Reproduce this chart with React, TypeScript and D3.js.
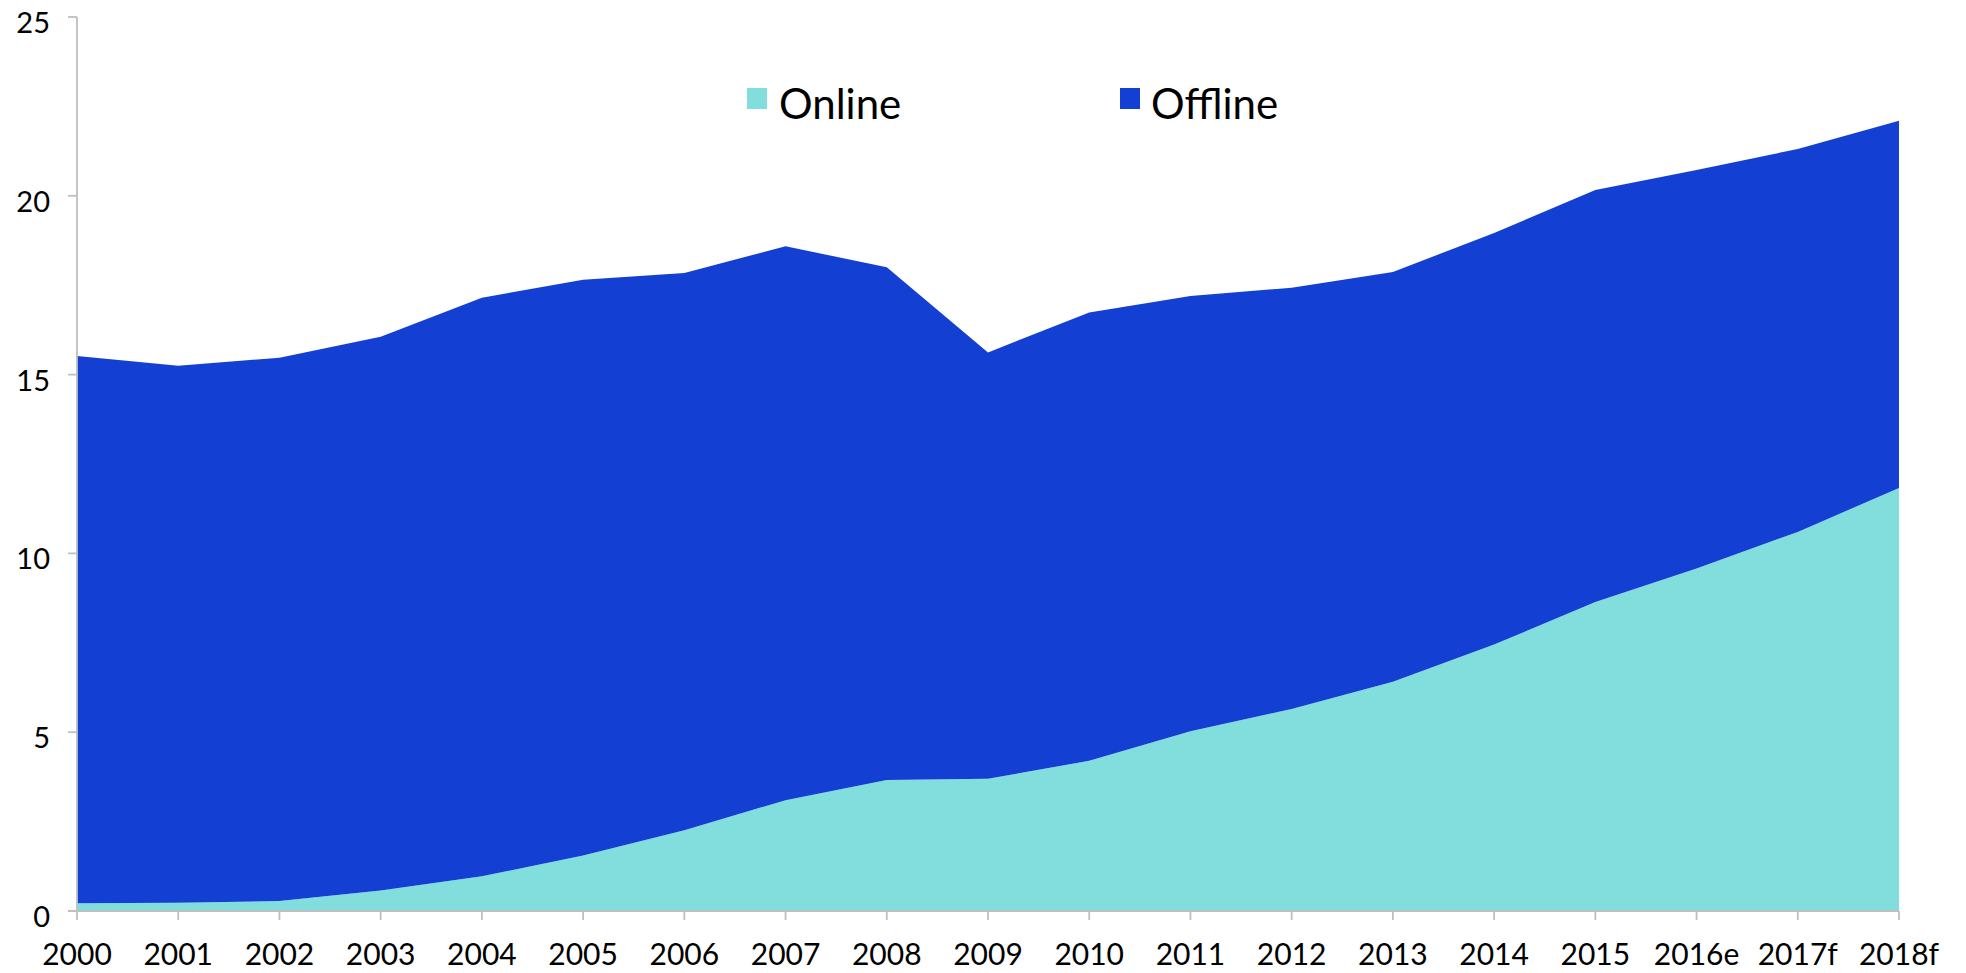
import React from "react";
import * as d3 from "d3";

// Years on the x axis
const years = [
  "2000", "2001", "2002", "2003", "2004", "2005", "2006", "2007", "2008", "2009",
  "2010", "2011", "2012", "2013", "2014", "2015", "2016e", "2017f", "2018f",
];

// Online share
const online = [
  0.22, 0.23, 0.28, 0.57, 0.97, 1.55, 2.26, 3.1, 3.66, 3.7,
  4.2, 5.03, 5.65, 6.41, 7.45, 8.64, 9.58, 10.6, 11.83,
];

// Offline share (stacked on top of online)
const offline = [
  15.3, 15.02, 15.19, 15.49, 16.18, 16.1, 15.58, 15.49, 14.34, 11.92,
  12.54, 12.17, 11.78, 11.46, 11.51, 11.52, 11.14, 10.71, 10.27,
];

const yTicks = [0, 5, 10, 15, 20, 25];

const seriesKeys = ["Online", "Offline"];
const seriesColors: Record<string, string> = {
  Online: "#82DEDC",
  Offline: "#1340D2",
};

const W = 1966;
const H = 973;
const FONT = "Lato, 'Open Sans', sans-serif";
const AXIS = "#BFBFBF";

export default function App() {
  const rows = years.map((y, i) => ({ year: y, Online: online[i], Offline: offline[i] }));

  const x = d3.scalePoint<string>().domain(years).range([77, 1899]);
  const y = d3.scaleLinear().domain([0, 25]).range([911, 17]);

  const stacked = d3.stack<any>().keys(seriesKeys)(rows);

  const area = d3
    .area<any>()
    .x((d) => x(d.data.year) as number)
    .y0((d) => y(d[0]))
    .y1((d) => y(d[1]));

  const legend = [
    { key: "Online", sx: 747, tx: 779 },
    { key: "Offline", sx: 1120, tx: 1151 },
  ];

  return (
    <svg
      width={W}
      height={H}
      style={{ position: "absolute", left: 0, top: 0, background: "#fff" }}
      fontFamily={FONT}
    >
      {stacked.map((s) => (
        <path key={s.key} d={area(s) || ""} fill={seriesColors[s.key]} stroke="none" />
      ))}

      {/* y axis */}
      <line x1={77} x2={77} y1={y(25)} y2={y(0)} stroke={AXIS} strokeWidth={1.8} />
      {yTicks.map((t) => (
        <g key={t}>
          <line x1={68} x2={77} y1={y(t)} y2={y(t)} stroke={AXIS} strokeWidth={1.8} />
          <text x={50} y={y(t) + 16} textAnchor="end" fontSize={29} fill="#000">
            {t}
          </text>
        </g>
      ))}

      {/* x axis */}
      <line x1={68} x2={1899} y1={y(0)} y2={y(0)} stroke={AXIS} strokeWidth={1.8} />
      {years.map((yr) => (
        <g key={yr}>
          <line
            x1={x(yr) as number}
            x2={x(yr) as number}
            y1={y(0)}
            y2={y(0) + 9}
            stroke={AXIS}
            strokeWidth={1.8}
          />
          <text x={x(yr) as number} y={965} textAnchor="middle" fontSize={30} fill="#000">
            {yr}
          </text>
        </g>
      ))}

      {/* legend */}
      {legend.map((l) => (
        <g key={l.key}>
          <rect x={l.sx} y={88} width={20} height={21} fill={seriesColors[l.key]} />
          <text x={l.tx} y={119} fontSize={42} fill="#000">
            {l.key}
          </text>
        </g>
      ))}
    </svg>
  );
}
